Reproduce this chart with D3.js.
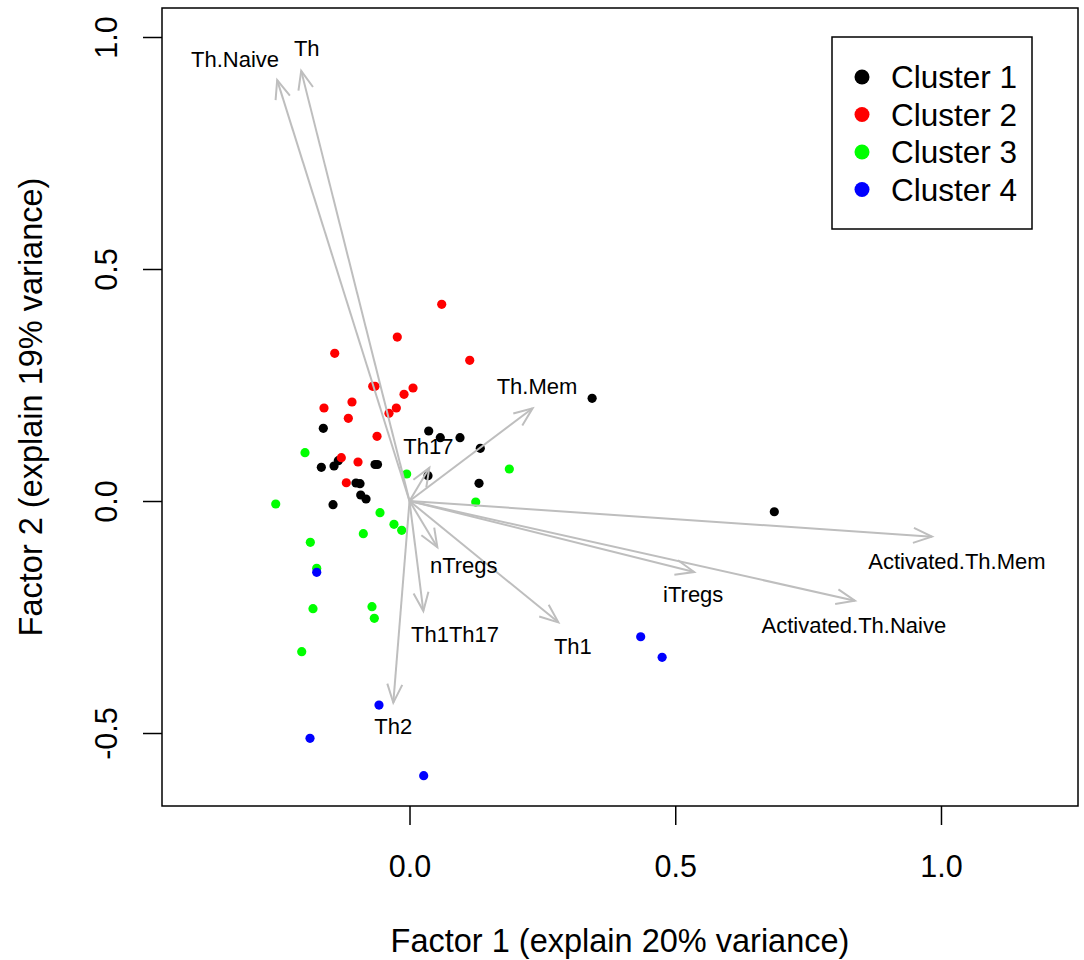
<!DOCTYPE html>
<html>
<head>
<meta charset="utf-8">
<script src="https://cdn.jsdelivr.net/npm/d3@7"></script>
<style>
  html, body { margin: 0; padding: 0; background: #fff; }
  text { font-family: "Liberation Sans", Arial, sans-serif; }
</style>
</head>
<body>
<svg id="chart" width="1084" height="960"></svg>
<script>
// ---- data ----
const cluster1X = [-0.1622, 0.0361, 0.0579, 0.0950, 0.1332, -0.1659, -0.1420, -0.1340, -0.0649, -0.0602, -0.1007, -0.0931, 0.0348, 0.1308, -0.0918, -0.0818, -0.1439, 0.3436, 0.6864];
const cluster1Y = [0.1567, 0.1509, 0.1364, 0.1364, 0.1136, 0.0726, 0.0754, 0.0869, 0.0787, 0.0787, 0.0388, 0.0373, 0.0545, 0.0381, 0.0129, 0.0043, -0.0080, 0.2213, -0.0231];
const cluster2X = [0.0606, -0.0230, -0.1407, 0.1133, -0.0692, -0.0649, 0.0066, -0.0103, -0.1082, -0.1609, -0.0248, -0.0386, -0.1151, -0.0611, -0.1283, -0.0969, -0.1189];
const cluster2Y = [0.4239, 0.3534, 0.3183, 0.3032, 0.2472, 0.2472, 0.2435, 0.2300, 0.2134, 0.2004, 0.2004, 0.1890, 0.1782, 0.1394, 0.0933, 0.0841, 0.0394];
const cluster3X = [-0.1966, -0.0053, 0.1878, 0.1246, -0.2517, -0.0555, -0.0292, -0.0147, -0.0869, -0.1866, -0.1746, -0.1816, -0.0706, -0.0662, -0.2028];
const cluster3Y = [0.1041, 0.0582, 0.0690, -0.0022, -0.0065, -0.0252, -0.0502, -0.0631, -0.0705, -0.0890, -0.1450, -0.2321, -0.2278, -0.2528, -0.3248];
const cluster4X = [-0.1746, 0.4350, 0.4753, -0.0574, -0.1872, 0.0267];
const cluster4Y = [-0.1537, -0.2925, -0.3369, -0.4397, -0.5114, -0.5920];

const clusterNames = ["Cluster 1", "Cluster 2", "Cluster 3", "Cluster 4"];
const clusterColors = ["#000000", "#FF0000", "#00FF00", "#0000FF"];

const loadingNames = ["Th.Naive", "Th", "Th.Mem", "Th17", "Activated.Th.Mem", "Activated.Th.Naive", "iTregs", "Th1", "nTregs", "Th1Th17", "Th2"];
const loadingX = [-0.249, -0.2038, 0.2316, 0.0373, 0.983, 0.838, 0.5356, 0.280, 0.0524, 0.026, -0.0305];
const loadingY = [0.907, 0.927, 0.1998, 0.0718, -0.0769, -0.2148, -0.153, -0.2615, -0.0998, -0.237, -0.4347];
const labelX = [-0.3283, -0.1934, 0.2399, 0.0354, 1.0301, 0.8361, 0.5338, 0.3074, 0.1020, 0.0856, -0.0305];
const labelY = [0.9530, 0.9756, 0.2478, 0.1189, -0.1297, -0.2679, -0.2015, -0.3125, -0.1379, -0.2866, -0.4864];

const xTicks = [0, 0.5, 1.0];
const xTickLabels = ["0.0", "0.5", "1.0"];
const yTicks = [-0.5, 0, 0.5, 1.0];
const yTickLabels = ["-0.5", "0.0", "0.5", "1.0"];
const xTitle = "Factor 1 (explain 20% variance)";
const yTitle = "Factor 2 (explain 19% variance)";

// ---- layout ----
const plot = { left: 162, right: 1078, top: 8, bottom: 806 };
const svg = d3.select("#chart");
const x = d3.scaleLinear().domain([-0.4657, 1.2578]).range([plot.left, plot.right]);
const y = d3.scaleLinear().domain([-0.6573, 1.0625]).range([plot.bottom, plot.top]);

const tickFont = 30.5, labelFont = 22, titleFont = 32.5, legendFont = 31.5;

// points
const clusters = [
  [cluster1X, cluster1Y], [cluster2X, cluster2Y], [cluster3X, cluster3Y], [cluster4X, cluster4Y]
];
clusters.forEach(([xs, ys], ci) => {
  svg.append("g").selectAll("circle")
    .data(xs.map((v, i) => [v, ys[i]]))
    .join("circle")
    .attr("cx", d => x(d[0]))
    .attr("cy", d => y(d[1]))
    .attr("r", 4.6)
    .attr("fill", clusterColors[ci]);
});

// arrows
const arrowG = svg.append("g").attr("stroke", "#BEBEBE").attr("stroke-width", 2).attr("fill", "none");
const headLen = 20, headAng = 22 * Math.PI / 180;
loadingNames.forEach((n, i) => {
  const x0 = x(0), y0 = y(0), x1 = x(loadingX[i]), y1 = y(loadingY[i]);
  arrowG.append("line").attr("x1", x0).attr("y1", y0).attr("x2", x1).attr("y2", y1);
  const a = Math.atan2(y0 - y1, x0 - x1);
  const p1 = [x1 + headLen * Math.cos(a + headAng), y1 + headLen * Math.sin(a + headAng)];
  const p2 = [x1 + headLen * Math.cos(a - headAng), y1 + headLen * Math.sin(a - headAng)];
  arrowG.append("path").attr("d", `M${p1[0]},${p1[1]}L${x1},${y1}L${p2[0]},${p2[1]}`);
});

// labels
svg.append("g").selectAll("text")
  .data(loadingNames)
  .join("text")
  .attr("x", (d, i) => x(labelX[i]))
  .attr("y", (d, i) => y(labelY[i]))
  .attr("dy", "0.35em")
  .attr("text-anchor", "middle")
  .attr("font-size", labelFont)
  .attr("fill", "#000")
  .text(d => d);

// box
svg.append("rect")
  .attr("x", plot.left).attr("y", plot.top)
  .attr("width", plot.right - plot.left).attr("height", plot.bottom - plot.top)
  .attr("fill", "none").attr("stroke", "#000").attr("stroke-width", 1.5);

// x axis
const xAxis = svg.append("g")
  .attr("transform", `translate(0,${plot.bottom})`)
  .call(d3.axisBottom(x).tickValues(xTicks).tickSize(19).tickFormat((d, i) => xTickLabels[i]));
xAxis.select(".domain").remove();
xAxis.selectAll("line").attr("stroke", "#000").attr("stroke-width", 1.5);
xAxis.selectAll("text").attr("font-size", tickFont).attr("font-family", "Liberation Sans, Arial, sans-serif")
  .attr("fill", "#000").attr("y", 60).attr("dy", "0.35em");

// y axis
const yAxis = svg.append("g")
  .attr("transform", `translate(${plot.left},0)`)
  .call(d3.axisLeft(y).tickValues(yTicks).tickSize(19).tickFormat((d, i) => yTickLabels[i]));
yAxis.select(".domain").remove();
yAxis.selectAll("line").attr("stroke", "#000").attr("stroke-width", 1.5);
yAxis.selectAll("text").attr("font-size", tickFont).attr("font-family", "Liberation Sans, Arial, sans-serif")
  .attr("fill", "#000")
  .attr("x", 0).attr("y", 0).attr("dy", "0.35em")
  .attr("text-anchor", "middle")
  .attr("transform", "translate(-56,0) rotate(-90)");

// titles
svg.append("text")
  .attr("x", (plot.left + plot.right) / 2).attr("y", 941).attr("dy", "0.35em")
  .attr("text-anchor", "middle").attr("font-size", titleFont).text(xTitle);
svg.append("text")
  .attr("transform", `translate(31,${(plot.top + plot.bottom) / 2}) rotate(-90)`)
  .attr("dy", "0.35em")
  .attr("text-anchor", "middle").attr("font-size", titleFont).text(yTitle);

// legend
const lg = svg.append("g");
lg.append("rect").attr("x", 832).attr("y", 37).attr("width", 200).attr("height", 192)
  .attr("fill", "#fff").attr("stroke", "#000").attr("stroke-width", 1.5);
clusterNames.forEach((n, i) => {
  const cy = 77 + i * 37.5;
  lg.append("circle").attr("cx", 862).attr("cy", cy).attr("r", 7.5).attr("fill", clusterColors[i]);
  lg.append("text").attr("x", 891).attr("y", cy).attr("dy", "0.35em")
    .attr("font-size", legendFont).attr("fill", "#000").text(n);
});
</script>
</body>
</html>
